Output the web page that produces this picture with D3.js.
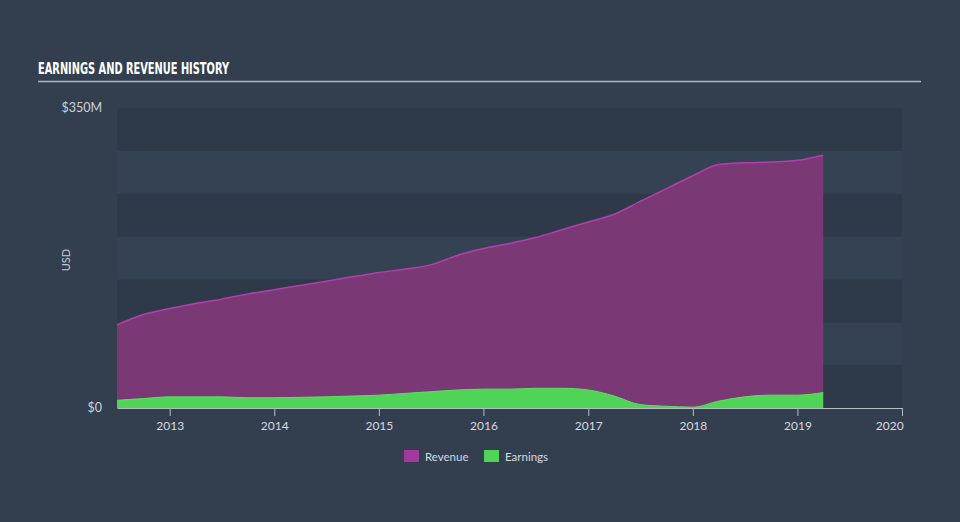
<!DOCTYPE html>
<html>
<head>
<meta charset="utf-8">
<script src="https://cdn.jsdelivr.net/npm/d3@7"></script>
<style>
  html, body { margin: 0; padding: 0; background: #333f4f; }
  svg { display: block; }
</style>
</head>
<body>
<svg id="chart" width="960" height="522"></svg>
<script>
const dates = ["2012-07-01","2012-10-01","2013-01-01","2013-04-01","2013-07-01","2013-10-01",
  "2014-01-01","2014-04-01","2014-07-01","2014-10-01","2015-01-01","2015-04-01","2015-07-01","2015-10-01",
  "2016-01-01","2016-04-01","2016-07-01","2016-10-01","2017-01-01","2017-04-01","2017-07-01","2017-10-01",
  "2018-01-01","2018-04-01","2018-07-01","2018-10-01","2019-01-01","2019-04-01"];
const revenue = [97,109,116,122,127,133,138,143,148,153,158,162,167,178,186,192,199,208,217,226,241,256,271,284,286,287,289,295];
const earnings = [9,11,13,13,13,12,12,12.5,13,14,15,17,19,21,22,22,23,23,21,14,4,2,1,8,13,15,15,18];
const yTickLabels = ["$0","$350M"];
const yTickValues = [0,350];
const xTickYears = [2013,2014,2015,2016,2017,2018,2019,2020];
const seriesNames = ["Revenue","Earnings"];

const svg = d3.select("#chart");
const W = 960, H = 522;
const mLeft = 117, mRight = 902, mTop = 108, mBottom = 408;

const parse = d3.timeParse("%Y-%m-%d");
const data = dates.map((d,i)=>({date: parse(d), rev: revenue[i], earn: earnings[i]}));

const x = d3.scaleTime().domain([parse("2012-07-01"), parse("2020-01-01")]).range([mLeft, mRight]);
const y = d3.scaleLinear().domain([0,350]).range([mBottom, mTop]);

// background
svg.append("rect").attr("width",W).attr("height",H).attr("fill","#333f4f");

// bands
const bandEdges = d3.range(0,350,50);
svg.append("g").selectAll("rect").data(bandEdges).join("rect")
  .attr("x", mLeft).attr("width", mRight-mLeft)
  .attr("y", d=>y(d+50)).attr("height", d=>y(d)-y(d+50))
  .attr("fill", (d,i)=> (i%2===0) ? "#2e3a49" : "#344253");

// title
svg.append("text").attr("x",38).attr("y",74)
  .attr("font-family","'DejaVu Sans Condensed','Liberation Sans Narrow',sans-serif")
  .attr("font-weight","bold").attr("font-size",15).attr("fill","#ffffff")
  .attr("textLength",191).attr("lengthAdjust","spacingAndGlyphs")
  .text("EARNINGS AND REVENUE HISTORY");
svg.append("line").attr("x1",38).attr("x2",921).attr("y1",81.5).attr("y2",81.5)
  .attr("stroke","#aeb6c0").attr("stroke-width",1.5);

// areas
const curve = d3.curveMonotoneX;
const revArea = d3.area().x(d=>x(d.date)).y0(y(0)).y1(d=>y(d.rev)).curve(curve);
const revLine = d3.line().x(d=>x(d.date)).y(d=>y(d.rev)).curve(curve);
const earnArea = d3.area().x(d=>x(d.date)).y0(y(0)).y1(d=>y(d.earn)).curve(curve);
const earnLine = d3.line().x(d=>x(d.date)).y(d=>y(d.earn)).curve(curve);

svg.append("path").datum(data).attr("d",revArea).attr("fill","#7a3875");
svg.append("path").datum(data).attr("d",revLine).attr("fill","none").attr("stroke","#b33fae").attr("stroke-width",1.5);
svg.append("path").datum(data).attr("d",earnArea).attr("fill","#4fd455");
svg.append("path").datum(data).attr("d",earnLine).attr("fill","none").attr("stroke","#5ce062").attr("stroke-width",1);

// x axis
const xAxis = d3.axisBottom(x)
  .tickValues(xTickYears.map(yv=>new Date(yv,0,1)))
  .tickFormat(d3.timeFormat("%Y")).tickSize(8).tickSizeOuter(0);
const gx = svg.append("g").attr("transform",`translate(0,${mBottom})`).call(xAxis);
gx.select(".domain").attr("stroke","#b4bcc6");
gx.selectAll(".tick line").attr("stroke","#b4bcc6");
gx.selectAll(".tick text").attr("fill","#d5dae0").attr("font-family","Lato, 'Open Sans', sans-serif")
  .attr("font-size",12).attr("dy","0.95em")
  .attr("text-anchor",(d,i)=> i===xTickYears.length-1 ? "end" : "middle")
  .attr("dx",(d,i)=> i===xTickYears.length-1 ? "0.1em" : 0);

// y labels
svg.append("g").selectAll("text").data(yTickValues).join("text")
  .attr("x",102).attr("y",d=>y(d)+4)
  .attr("text-anchor","end").attr("fill","#ccd2d9")
  .attr("font-family","Lato, 'Open Sans', sans-serif").attr("font-size",12.5)
  .text((d,i)=>yTickLabels[i]);

svg.append("text").attr("transform","translate(70,260) rotate(-90)")
  .attr("text-anchor","middle").attr("fill","#c4cad2")
  .attr("font-family","Lato, 'Open Sans', sans-serif").attr("font-size",11)
  .text("USD");

// legend
const legColors = ["#a3399c","#4fd455"];
const legX = [404, 484];
const lg = svg.append("g").selectAll("g").data(seriesNames).join("g")
  .attr("transform",(d,i)=>`translate(${legX[i]},450)`);
lg.append("rect").attr("width",15).attr("height",12).attr("fill",(d,i)=>legColors[i]);
lg.append("text").attr("x",21).attr("y",10.5).attr("fill","#d5dae0")
  .attr("font-family","Lato, 'Open Sans', sans-serif").attr("font-size",11.5)
  .text(d=>d);
</script>
</body>
</html>
